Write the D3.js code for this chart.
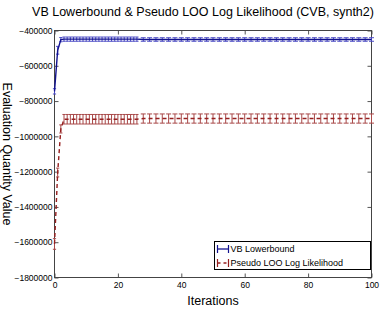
<!DOCTYPE html>
<html>
<head>
<meta charset="utf-8">
<script src="https://cdn.jsdelivr.net/npm/d3@7"></script>
<style>
  body { margin: 0; background: #fff; }
  svg { display: block; font-family: "Liberation Sans", Arial, sans-serif; }
</style>
</head>
<body>
<svg id="chart" width="382" height="311"></svg>
<script>
// iterations sampled (every step early on, every other step later)
const iterations = [0,1,2,3,4,5,6,7,8,9,10,11,12,13,14,15,16,17,18,19,20,21,22,23,24,25,26,
  28,30,32,34,36,38,40,42,44,46,48,50,52,54,56,58,60,62,64,66,68,70,72,74,76,78,80,82,84,86,88,90,92,94,96,98,100];

const vbValues = [-745000,-512000,-452000,-449000,-449000,-449000,-449000,-449000,-449000,-449000,
  -449000,-449000,-449000,-449000,-449000,-449000,-449000,-449000,-449000,-449000,
  -449000,-449000,-449000,-449000,-449000,-449000,-449000,
  -451000,-451000,-451000,-451000,-451000,-451000,-451000,-451000,-451000,-451000,
  -451000,-451000,-451000,-451000,-451000,-451000,-451000,-451000,-451000,-451000,
  -451000,-451000,-451000,-451000,-451000,-451000,-451000,-451000,-451000,-451000,
  -451000,-451000,-451000,-451000,-451000,-451000,-451000,-451000];
const vbErrors = [15000,22000,12000,12000,12000,12000,12000,12000,12000,12000,
  12000,12000,12000,12000,12000,12000,12000,12000,12000,12000,
  12000,12000,12000,12000,12000,12000,12000,
  10000,10000,10000,10000,10000,10000,10000,10000,10000,10000,
  10000,10000,10000,10000,10000,10000,10000,10000,10000,10000,
  10000,10000,10000,10000,10000,10000,10000,10000,10000,10000,
  10000,10000,10000,10000,10000,10000,10000,10000];

const looValues = [-1610000,-1205000,-958000,-903000,-903000,-903000,-903000,-903000,-903000,-903000,
  -903000,-903000,-903000,-903000,-903000,-903000,-903000,-903000,-903000,-903000,
  -903000,-903000,-903000,-903000,-903000,-903000,-903000,
  -899000,-899000,-899000,-899000,-899000,-899000,-899000,-899000,-899000,-899000,
  -899000,-899000,-899000,-899000,-899000,-899000,-899000,-899000,-899000,-899000,
  -899000,-899000,-899000,-899000,-899000,-899000,-899000,-899000,-899000,-899000,
  -899000,-899000,-899000,-899000,-899000,-899000,-899000,-899000];
const looErrors = [30000,25000,23000,27000,27000,27000,27000,27000,27000,27000,
  27000,27000,27000,27000,27000,27000,27000,27000,27000,27000,
  27000,27000,27000,27000,27000,27000,27000,
  26000,26000,26000,26000,26000,26000,26000,26000,26000,26000,
  26000,26000,26000,26000,26000,26000,26000,26000,26000,26000,
  26000,26000,26000,26000,26000,26000,26000,26000,26000,26000,
  26000,26000,26000,26000,26000,26000,26000,26000];

const xTicks = [0, 20, 40, 60, 80, 100];
const yTicks = [-1800000, -1600000, -1400000, -1200000, -1000000, -800000, -600000, -400000];
const seriesNames = ["VB Lowerbound", "Pseudo LOO Log Likelihood"];

// layout
const plot = {left: 54.5, right: 371.5, top: 30.5, bottom: 277.5};

const svg = d3.select("#chart");

const x = d3.scaleLinear().domain([0, 100]).range([plot.left, plot.right]);
const y = d3.scaleLinear().domain([-1800000, -400000]).range([plot.bottom, plot.top]);

// title
svg.append("text")
  .attr("x", 203).attr("y", 16)
  .attr("text-anchor", "middle")
  .attr("font-size", "12.5px")
  .text("VB Lowerbound & Pseudo LOO Log Likelihood (CVB, synth2)");

// axes (ticks pointing inwards, box on)
const axisG = svg.append("g");
const styleAxis = g => {
  g.select(".domain").remove();
  g.selectAll(".tick line").attr("stroke", "#555");
  g.selectAll(".tick text").attr("font-size", "8.5px").attr("fill", "#000");
};
axisG.append("g")
  .attr("transform", `translate(0,${plot.bottom})`)
  .call(d3.axisBottom(x).tickValues(xTicks).tickSizeInner(-4).tickSizeOuter(0).tickPadding(4))
  .call(styleAxis);
axisG.append("g")
  .attr("transform", `translate(0,${plot.top})`)
  .call(d3.axisTop(x).tickValues(xTicks).tickSizeInner(-4).tickSizeOuter(0).tickFormat(""))
  .call(styleAxis);
axisG.append("g")
  .attr("transform", `translate(${plot.left},0)`)
  .call(d3.axisLeft(y).tickValues(yTicks).tickSizeInner(-4).tickSizeOuter(0).tickPadding(2).tickFormat(d3.format("d")))
  .call(styleAxis);
axisG.append("g")
  .attr("transform", `translate(${plot.right},0)`)
  .call(d3.axisRight(y).tickValues(yTicks).tickSizeInner(-4).tickSizeOuter(0).tickFormat(""))
  .call(styleAxis);

// frame
svg.append("rect")
  .attr("x", plot.left).attr("y", plot.top)
  .attr("width", plot.right - plot.left).attr("height", plot.bottom - plot.top)
  .attr("fill", "none").attr("stroke", "#444").attr("stroke-width", 1);

// axis labels
svg.append("text")
  .attr("x", 213).attr("y", 305)
  .attr("text-anchor", "middle").attr("font-size", "12.5px")
  .text("Iterations");
svg.append("text")
  .attr("transform", `translate(3,${(plot.top + plot.bottom) / 2}) rotate(90)`)
  .attr("text-anchor", "middle").attr("font-size", "12.5px")
  .text("Evaluation Quantity Value");

// series
const series = [
  {name: seriesNames[0], values: vbValues, errors: vbErrors, color: "#12128f", barColor: "#4a4ac4", dash: null},
  {name: seriesNames[1], values: looValues, errors: looErrors, color: "#962020", barColor: "#a84848", dash: "4,3"}
];

const line = d3.line().x(d => x(d.it)).y(d => y(d.v));

series.forEach(s => {
  const pts = iterations.map((it, i) => ({it, v: s.values[i], e: s.errors[i]}));
  const g = svg.append("g");
  // error bars
  const capW = d => d.it <= 26 ? 1.6 : 2.5;
  g.selectAll(".eb")
    .data(pts)
    .join("path")
    .attr("d", d => {
      const cx = x(d.it), w = capW(d), y0 = y(d.v - d.e), y1 = y(d.v + d.e);
      return `M${cx},${y0}V${y1}M${cx - w},${y0}H${cx + w}M${cx - w},${y1}H${cx + w}`;
    })
    .attr("fill", "none")
    .attr("stroke", s.barColor)
    .attr("stroke-width", 1);
  g.append("path")
    .datum(pts)
    .attr("d", line)
    .attr("fill", "none")
    .attr("stroke", s.color)
    .attr("stroke-width", 1.4)
    .attr("stroke-dasharray", s.dash);
});

// legend
const legend = svg.append("g").attr("transform", "translate(214.5,241.5)");
legend.append("rect")
  .attr("width", 156).attr("height", 28)
  .attr("fill", "#fff").attr("stroke", "#000").attr("stroke-width", 1);
series.forEach((s, i) => {
  const row = legend.append("g").attr("transform", `translate(0,${7.5 + i * 14})`);
  row.append("path")
    .attr("d", "M3,-4V4M14,-4V4")
    .attr("stroke", s.color).attr("stroke-width", 1.2);
  row.append("path")
    .attr("d", "M3,0H14")
    .attr("stroke", s.color).attr("stroke-width", 1.3)
    .attr("stroke-dasharray", s.dash ? "3,3" : null);
  row.append("text")
    .attr("x", 16).attr("y", 3.2)
    .attr("font-size", "9px")
    .text(s.name);
});
</script>
</body>
</html>
